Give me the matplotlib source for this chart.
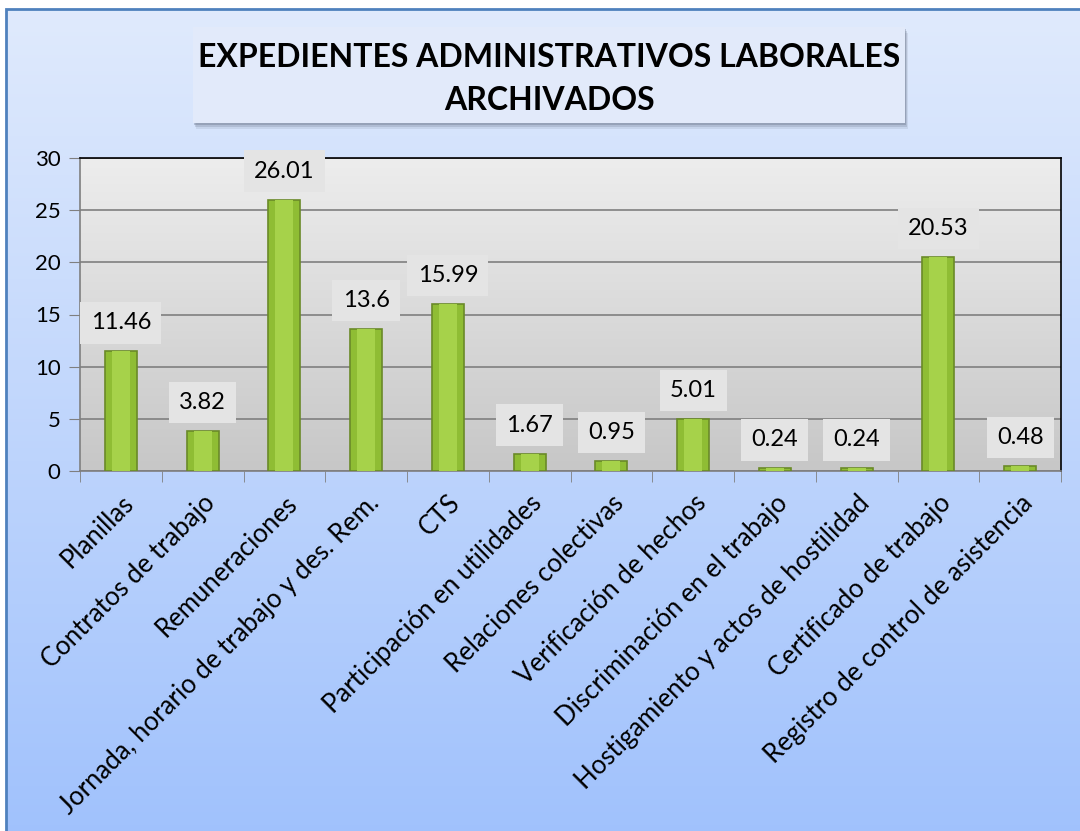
import matplotlib
matplotlib.use('Agg')
import matplotlib.pyplot as plt
import numpy as np
from matplotlib.patches import Rectangle
from matplotlib.transforms import offset_copy

# data
categories = [
    "Planillas",
    "Contratos de trabajo",
    "Remuneraciones",
    "Jornada, horario de trabajo y des. Rem.",
    "CTS",
    "Participación en utilidades",
    "Relaciones colectivas",
    "Verificación de hechos",
    "Discriminación en el trabajo",
    "Hostigamiento y actos de hostilidad",
    "Certificado de trabajo",
    "Registro de control de asistencia",
]
values = [11.46, 3.82, 26.01, 13.6, 15.99, 1.67, 0.95, 5.01, 0.24, 0.24, 20.53, 0.48]
value_labels = ["11.46", "3.82", "26.01", "13.6", "15.99", "1.67", "0.95", "5.01",
                "0.24", "0.24", "20.53", "0.48"]
yticks = [0, 5, 10, 15, 20, 25, 30]
title = "EXPEDIENTES ADMINISTRATIVOS LABORALES\nARCHIVADOS"

FONT = "Lato"
W, H = 1080, 831

fig = plt.figure(figsize=(W / 100, H / 100), dpi=100)

# figure background gradient (light blue -> blue)
bg = fig.add_axes([0, 0, 1, 1], zorder=-10)
grad = np.linspace(0, 1, 256).reshape(-1, 1)
top_c = np.array([0.88, 0.92, 0.99])
bot_c = np.array([0.63, 0.76, 0.99])
img = top_c * (1 - grad[..., None]) + bot_c * grad[..., None]
img = np.repeat(img, 2, axis=1)
bg.imshow(img, aspect='auto', extent=[0, 1, 0, 1])
bg.set_xlim(0, 1)
bg.set_ylim(0, 1)
bg.axis('off')
# white margin on top/left and chart frame
bg.add_patch(Rectangle((0, 1 - 9 / H), 1, 9 / H, facecolor='white', edgecolor='none'))
bg.add_patch(Rectangle((0, 0), 6 / W, 1, facecolor='white', edgecolor='none'))
bg.add_patch(Rectangle((6 / W, -0.01), 1.01, 1 - 9 / H + 0.01, facecolor='none',
                       edgecolor='#4f81bd', linewidth=2.0))

# title box with soft shadow
tx0, ty0, tw, th = 193 / W, 1 - 123 / H, 712 / W, 96 / H
for k, a in [(6, 0.12), (4, 0.2), (2, 0.3)]:
    bg.add_patch(Rectangle((tx0 + k / 2 / W, ty0 - k / H), tw, th, facecolor='#5a6478',
                           edgecolor='none', alpha=a))
bg.add_patch(Rectangle((tx0, ty0), tw, th, facecolor='#e2eafa', edgecolor='none'))
bg.text(tx0 + tw / 2, ty0 + th / 2 - 4 / H, title, ha='center', va='center',
        fontsize=23, fontweight='bold', family=FONT, linespacing=1.6, color='black')

# plot area
ax = fig.add_axes([80 / W, 1 - 471 / H, 981 / W, 313 / H])
n = len(categories)
x = np.arange(n)
ax.set_xlim(-0.5, n - 0.5)
ax.set_ylim(0, 30)

# gray gradient in the plot area
pg = np.linspace(0, 1, 256).reshape(-1, 1)
p_top = np.array([0.93, 0.93, 0.93])
p_bot = np.array([0.78, 0.78, 0.78])
pimg = p_top * (1 - pg[..., None]) + p_bot * pg[..., None]
pimg = np.repeat(pimg, 2, axis=1)
ax.imshow(pimg, aspect='auto', extent=[-0.5, n - 0.5, 0, 30], zorder=0)

ax.yaxis.grid(True, color='#7f7f7f', linewidth=1.2, zorder=1)
ax.set_axisbelow(True)

ax.bar(x, values, width=0.39, color='#8fbd34', edgecolor='#6a8a28',
       linewidth=1.2, zorder=3)
# lighter highlight strip on each bar
ax.bar(x, values, width=0.22, color='#a6d24a', edgecolor='none', zorder=4)

for xi, v, lab in zip(x, values, value_labels):
    ax.annotate(lab, (xi, v), xytext=(0, 18), textcoords='offset pixels',
                ha='center', va='bottom', fontsize=17, family=FONT, zorder=6,
                bbox=dict(boxstyle='square,pad=0.43', facecolor='#e4e4e4',
                          edgecolor='none'))

ax.set_yticks(yticks)
ax.set_yticklabels([str(t) for t in yticks], fontsize=16, family=FONT)
ax.set_xticks(np.arange(n + 1) - 0.5, minor=True)
ax.set_xticks(x)
ax.set_xticklabels(categories, rotation=45, ha='right', rotation_mode='anchor',
                   fontsize=18.5, family=FONT)
for t in ax.get_xticklabels():
    t.set_transform(offset_copy(t.get_transform(), fig=fig, x=10, y=0, units='dots'))
ax.tick_params(axis='x', which='major', length=0, pad=14)
ax.tick_params(axis='x', which='minor', length=8, color='#7f7f7f')
ax.tick_params(axis='y', length=8, color='#7f7f7f', pad=6)

for s in ['left', 'bottom']:
    ax.spines[s].set_color('#7f7f7f')
    ax.spines[s].set_linewidth(1.2)
for s in ['top', 'right']:
    ax.spines[s].set_color('black')
    ax.spines[s].set_linewidth(1.2)

fig.savefig('out.png', dpi=100)
